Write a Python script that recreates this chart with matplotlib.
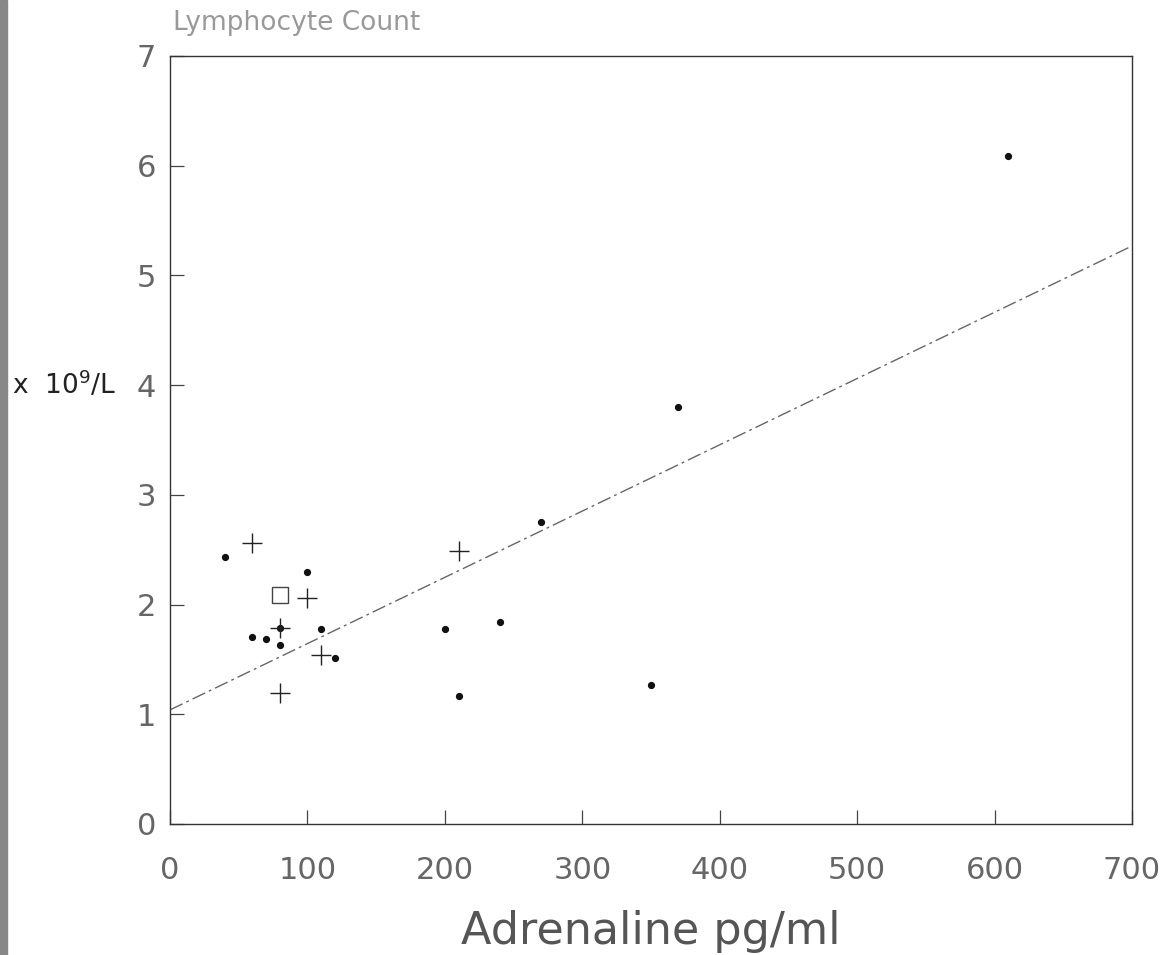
import matplotlib
matplotlib.use('Agg')
import matplotlib.pyplot as plt
import numpy as np

# values
dot_x = [40, 60, 70, 80, 80, 100, 110, 120, 200, 210, 240, 270, 350, 370, 610]
dot_y = [2.43, 1.70, 1.69, 1.63, 1.79, 2.30, 1.78, 1.51, 1.78, 1.17, 1.84, 2.75, 1.27, 3.80, 6.09]
plus_x = [60, 80, 80, 100, 110, 210]
plus_y = [2.56, 1.79, 1.19, 2.06, 1.54, 2.49]
square_x = [80]
square_y = [2.09]
fit_intercept = 1.04
fit_slope = 0.00604
x_ticks = [0, 100, 200, 300, 400, 500, 600, 700]
y_ticks = [0, 1, 2, 3, 4, 5, 6, 7]

plt.rcParams['font.family'] = ['DejaVu Sans']

fig = plt.figure(figsize=(11.67, 9.55), dpi=100)
ax = fig.add_axes([0.1457, 0.1372, 0.8243, 0.8042])

# regression line
xl = np.array([0, 700])
ax.plot(xl, fit_intercept + fit_slope * xl, color='#666666', lw=1.0,
        linestyle=(0, (10, 3, 2, 3)))

ax.plot(dot_x, dot_y, 'o', color='#111111', ms=4.2, ls='none')
ax.plot(plus_x, plus_y, '+', color='#222222', ms=15, mew=1.0, ls='none')
ax.plot(square_x, square_y, 's', mfc='none', mec='#444444', ms=11, mew=1.0, ls='none')

ax.set_xlim(0, 700)
ax.set_ylim(0, 7)
ax.set_xticks(x_ticks)
ax.set_yticks(y_ticks)
ax.tick_params(direction='in', length=10, width=0.9, color='#444444',
               labelsize=22, labelcolor='#666666',
               top=False, right=False)
ax.tick_params(axis='x', pad=23)
ax.tick_params(axis='y', pad=10)
for s in ax.spines.values():
    s.set_color('#333333')
    s.set_linewidth(1.0)

ax.set_xlabel('Adrenaline pg/ml', fontsize=32, color='#555555', labelpad=18)
fig.text(0.148, 0.976, 'Lymphocyte Count', fontsize=19, color='#999999',
         ha='left', va='center')
fig.text(0.010, 0.597, r'x  10$^9$/L', fontsize=19, color='#222222',
         ha='left', va='center')

# dark scan edge on the left
fig.patches.append(plt.Rectangle((0, 0), 0.006, 1, transform=fig.transFigure,
                                 color='#888888', zorder=-1))

fig.savefig('out.png', dpi=100)
